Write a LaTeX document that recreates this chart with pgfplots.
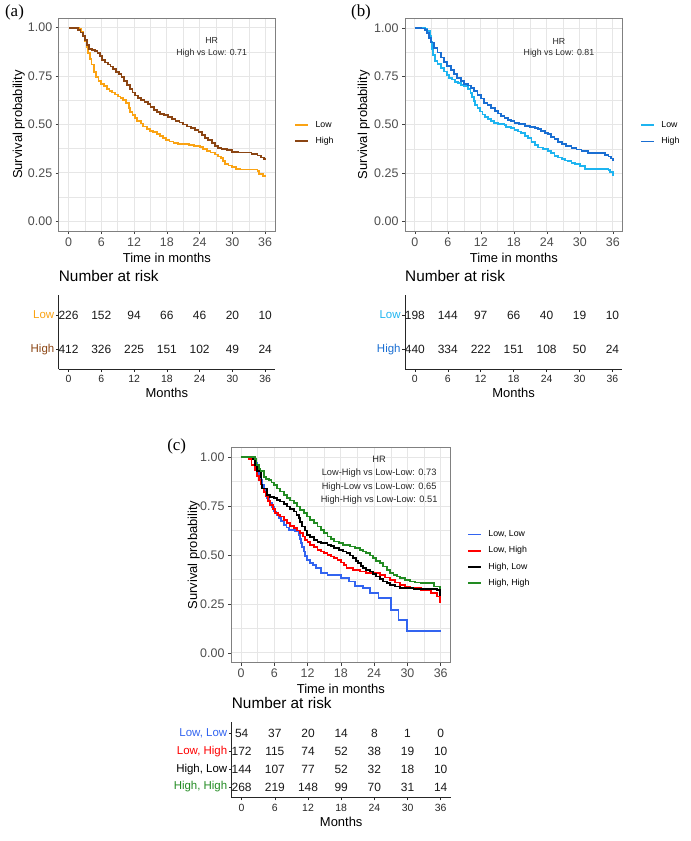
\documentclass[border=0pt]{standalone}
\usepackage{pgfplots}
\pgfplotsset{compat=1.18}
\usepackage{fontspec}
\setmainfont{Liberation Sans}
\newfontfamily\timesfont{Liberation Serif}

\definecolor{lowA}{RGB}{250,163,20}
\definecolor{highA}{RGB}{139,69,19}
\definecolor{lowB}{RGB}{30,180,240}
\definecolor{highB}{RGB}{25,110,210}
\definecolor{cLL}{RGB}{50,100,240}
\definecolor{cLH}{RGB}{255,0,0}
\definecolor{cHL}{RGB}{0,0,0}
\definecolor{cHH}{RGB}{34,139,34}
\definecolor{gridc}{RGB}{230,230,230}
\definecolor{tickc}{RGB}{77,77,77}

\pgfplotsset{
  km/.style={
    scale only axis, anchor=north west,
    xmin=-1.8, xmax=37.8, ymin=-0.05, ymax=1.05,
    xtick={0,6,...,36}, minor xtick={3,9,...,33},
    ytick={0,0.25,0.5,0.75,1}, yticklabels={0.00,0.25,0.50,0.75,1.00},
    minor ytick={0.125,0.375,0.625,0.875},
    xmajorgrids, ymajorgrids, xminorgrids, yminorgrids,
    major grid style={gridc, line width=0.9bp},
    minor grid style={gridc, line width=0.45bp},
    axis line style={black!50, line width=0.8bp},
    tick align=outside, major tick length=3bp, minor tick length=0bp,
    major tick style={black!75, line width=0.6bp},
    tick pos=left,
    tick label style={font=\fontsize{12.5}{15}\selectfont, text=tickc},
    /pgf/number format/assume math mode=true,
    xlabel={Time in months}, ylabel={Survival probability},
    label style={font=\fontsize{13}{15}\selectfont, inner sep=0pt},
    legend style={draw=none, fill=none, inner sep=0pt, anchor=west,
      font=\fontsize{8.8}{10}\selectfont,
      nodes={inner sep=0pt, text height=6.5bp, text depth=2bp},
      row sep=7.8bp, column sep=6.5bp},
    legend cell align=left,
    legend image code/.code={\draw[##1, line width=1.8bp] (0bp,0bp) -- (13bp,0bp);},
  },
  rt/.style={
    scale only axis, anchor=north west,
    xmin=-1.8, xmax=37.8,
    axis x line*=bottom, axis y line*=left,
    axis line style={-, black!85, line width=0.9bp},
    xtick={0,6,...,36}, tick align=outside, major tick length=2.75bp,
    major tick style={black!85, line width=0.6bp},
    x tick label style={font=\fontsize{10.5}{12}\selectfont, text=black!85},
    y tick label style={font=\fontsize{11.5}{13}\selectfont, inner sep=1.5bp},
    /pgf/number format/assume math mode=true,
    xlabel={Months},
    xlabel style={font=\fontsize{13}{15}\selectfont, at={([yshift=-19bp]rel axis cs:0.5,0)}, anchor=north, inner sep=0pt},
    title={Number at risk},
    title style={font=\fontsize{15.4}{17}\selectfont, at={([yshift=7.5bp]rel axis cs:0,1)}, anchor=base west, inner sep=0pt},
  },
  nums/.style={only marks, mark=*, mark size=0pt, mark options={draw=none, fill=none},
    nodes near coords, point meta=explicit symbolic, nodes near coords align={center},
    nodes near coords style={font=\fontsize{12}{14}\selectfont, text=black!90, inner sep=0pt}},
  km line/.style={const plot, line width=1.8bp, line join=miter},
}

\begin{document}
\begin{tikzpicture}
\useasboundingbox (0bp,0bp) rectangle (691bp,-841bp);

% ---------------- Panel (a) ----------------
\node[font=\timesfont\fontsize{17}{20}\selectfont, inner sep=0pt] at (14.5bp,-12.5bp) {(a)};
\begin{axis}[km, at={(58.7bp,-18bp)}, width=216.3bp, height=213bp,
  xlabel style={at={([yshift=-22bp]rel axis cs:0.5,0)}, anchor=north},
  ylabel style={at={([xshift=-33.7bp]rel axis cs:0,0.5)}, anchor=south},
  legend style={at={(1.088,0.459)}}]
\addplot[km line, color=lowA] coordinates {
(0,1.0) (1.9,0.995) (2.3,0.98) (2.7,0.96) (3.0,0.93) (3.3,0.90) (3.6,0.87) (3.9,0.84)
(4.2,0.81) (4.6,0.77) (5.0,0.745) (5.5,0.725) (6.0,0.71) (6.5,0.70) (7.0,0.685) (7.5,0.675)
(8.0,0.665) (8.5,0.655) (9.0,0.645) (9.5,0.635) (10.0,0.625) (10.5,0.61) (11.0,0.585) (11.3,0.565)
(11.7,0.55) (12.1,0.535) (12.6,0.52) (13.2,0.505) (13.7,0.49) (14.3,0.478) (14.9,0.468) (15.5,0.46)
(16.2,0.45) (16.8,0.44) (17.3,0.43) (17.8,0.42) (18.5,0.412) (19.2,0.405) (20.0,0.40) (21.0,0.398)
(22.0,0.395) (23.0,0.39) (24.0,0.385) (24.6,0.375) (25.3,0.365) (26.0,0.355) (26.8,0.345) (27.4,0.335)
(27.9,0.325) (28.3,0.31) (28.6,0.295) (29.3,0.288) (30.0,0.28) (30.7,0.272) (31.5,0.268) (34.6,0.26)
(34.9,0.245) (35.6,0.235) (36.0,0.228)};
\addlegendentry{Low}
\addplot[km line, color=highA] coordinates {
(0,1.0) (1.8,0.99) (2.2,0.975) (2.6,0.955) (3.0,0.935) (3.4,0.91) (3.8,0.89) (4.3,0.885)
(4.8,0.878) (5.3,0.87) (5.7,0.855) (6.2,0.835) (6.7,0.82) (7.2,0.81) (7.7,0.80) (8.2,0.785)
(8.7,0.772) (9.2,0.76) (9.7,0.745) (10.2,0.725) (10.7,0.705) (11.2,0.685) (11.7,0.665) (12.2,0.65)
(12.7,0.635) (13.3,0.625) (13.9,0.615) (14.5,0.605) (15.0,0.59) (15.6,0.575) (16.2,0.565) (16.8,0.555)
(17.5,0.548) (18.2,0.54) (18.9,0.53) (19.6,0.52) (20.3,0.51) (21.0,0.50) (21.7,0.49) (22.4,0.48)
(23.1,0.47) (23.8,0.46) (24.4,0.445) (25.0,0.432) (25.6,0.42) (26.2,0.405) (26.8,0.39) (27.4,0.38)
(28.0,0.375) (29.0,0.37) (30.0,0.36) (31.0,0.355) (33.5,0.348) (34.6,0.34) (35.3,0.33) (35.8,0.32) (36.0,0.318)};
\addlegendentry{High}
\node[font=\fontsize{8.8}{12}\selectfont, align=center, text=black!85] at (axis cs:26.2,0.897) {HR\\High vs Low: 0.71};
\end{axis}

\begin{axis}[rt, at={(58.7bp,-295bp)}, width=216.3bp, height=74.3bp,
  ymin=0.42, ymax=2.58, ytick={1,2},
  yticklabels={\textcolor{highA}{High},\textcolor{lowA}{Low}}]
\addplot[nums] table[meta=n] {
x y n
0 2 226
6 2 152
12 2 94
18 2 66
24 2 46
30 2 20
36 2 10
0 1 412
6 1 326
12 1 225
18 1 151
24 1 102
30 1 49
36 1 24
};
\end{axis}

% ---------------- Panel (b) ----------------
\node[font=\timesfont\fontsize{17}{20}\selectfont, inner sep=0pt] at (361bp,-12.5bp) {(b)};
\begin{axis}[km, at={(405bp,-18.3bp)}, width=217.7bp, height=212.7bp,
  xlabel style={at={([yshift=-22bp]rel axis cs:0.5,0)}, anchor=north},
  ylabel style={at={([xshift=-35bp]rel axis cs:0,0.5)}, anchor=south},
  legend style={at={(1.079,0.459)}}]
\addplot[km line, color=lowB] coordinates {
(0,1.0) (1.8,0.997) (2.3,0.985) (2.7,0.96) (3.0,0.93) (3.1,0.89) (3.3,0.86) (3.6,0.83)
(4.1,0.815) (4.7,0.795) (5.3,0.775) (5.8,0.755) (6.2,0.743) (6.8,0.733) (7.3,0.722) (7.8,0.715)
(8.4,0.707) (9.0,0.698) (9.6,0.685) (10.1,0.665) (10.4,0.645) (10.7,0.622) (11.0,0.600) (11.4,0.585)
(11.8,0.568) (12.3,0.553) (12.8,0.540) (13.3,0.528) (13.8,0.518) (14.4,0.510) (15.1,0.505) (16.3,0.500)
(16.6,0.488) (17.5,0.482) (18.1,0.472) (18.7,0.465) (19.3,0.455) (20.0,0.443) (20.6,0.43) (21.2,0.41)
(21.8,0.395) (22.4,0.382) (23.3,0.375) (24.2,0.365) (24.8,0.352) (25.4,0.338) (26.1,0.33) (26.7,0.322)
(27.3,0.315) (27.9,0.31) (28.5,0.30) (29.1,0.295) (30.0,0.287) (30.9,0.27) (35.2,0.265) (35.5,0.255) (36.0,0.237)};
\addlegendentry{Low}
\addplot[km line, color=highB] coordinates {
(0,1.0) (1.2,0.997) (1.8,0.99) (2.2,0.975) (2.6,0.95) (3.0,0.925) (3.5,0.898) (4.1,0.873)
(4.7,0.847) (5.3,0.825) (5.9,0.803) (6.5,0.782) (7.1,0.76) (7.7,0.742) (8.4,0.726) (9.0,0.712)
(9.6,0.702) (10.2,0.69) (10.8,0.672) (11.4,0.655) (12.0,0.635) (12.6,0.614) (13.2,0.60) (13.8,0.585)
(14.5,0.571) (15.1,0.558) (15.7,0.546) (16.3,0.536) (17.0,0.525) (17.5,0.518) (18.1,0.51) (19.0,0.502)
(20.0,0.493) (21.0,0.487) (21.8,0.484) (22.4,0.476) (23.0,0.467) (23.6,0.458) (24.2,0.45) (24.8,0.437)
(25.4,0.424) (26.0,0.41) (26.7,0.398) (27.5,0.39) (28.5,0.381) (29.4,0.372) (30.3,0.364) (31.5,0.355)
(33.4,0.352) (34.6,0.345) (35.2,0.335) (35.6,0.325) (36.0,0.312)};
\addlegendentry{High}
\node[font=\fontsize{8.8}{12}\selectfont, align=center, text=black!85] at (axis cs:26.2,0.897) {HR\\High vs Low: 0.81};
\end{axis}

\begin{axis}[rt, at={(405bp,-295bp)}, width=217.3bp, height=74.3bp,
  ymin=0.42, ymax=2.58, ytick={1,2},
  yticklabels={\textcolor{highB}{High},\textcolor{lowB}{Low}}]
\addplot[nums] table[meta=n] {
x y n
0 2 198
6 2 144
12 2 97
18 2 66
24 2 40
30 2 19
36 2 10
0 1 440
6 1 334
12 1 222
18 1 151
24 1 108
30 1 50
36 1 24
};
\end{axis}

% ---------------- Panel (c) ----------------
\node[font=\timesfont\fontsize{17}{20}\selectfont, inner sep=0pt] at (176.7bp,-446.7bp) {(c)};
\begin{axis}[km, at={(231bp,-447.3bp)}, width=219.7bp, height=215.4bp,
  xlabel style={at={([yshift=-21.7bp]rel axis cs:0.5,0)}, anchor=north},
  ylabel style={at={([xshift=-31bp]rel axis cs:0,0.5)}, anchor=south},
  legend style={at={(1.074,0.482)}}]
\addplot[km line, color=cLL] coordinates {
(0,1.0) (2.0,0.99) (2.5,0.97) (2.9,0.94) (3.2,0.91) (3.5,0.884) (3.8,0.86) (4.1,0.833)
(4.4,0.81) (4.7,0.79) (5.0,0.775) (5.3,0.765) (5.6,0.745) (5.9,0.722) (6.4,0.705) (6.8,0.688)
(7.2,0.672) (7.7,0.654) (8.2,0.64) (8.6,0.629) (9.8,0.62) (10.4,0.603) (10.6,0.58) (10.8,0.56)
(11.0,0.54) (11.3,0.518) (11.6,0.495) (11.9,0.475) (12.5,0.458) (13.0,0.448) (13.5,0.433) (14.4,0.407)
(15.6,0.399) (18.0,0.382) (19.5,0.365) (20.5,0.34) (22.0,0.33) (23.3,0.305) (24.8,0.28) (27.0,0.22)
(28.4,0.17) (29.9,0.11) (36.0,0.11)};
\addlegendentry{Low, Low}
\addplot[km line, color=cLH] coordinates {
(0,1.0) (1.5,0.99) (1.9,0.96) (2.5,0.935) (2.9,0.905) (3.2,0.884) (3.5,0.86) (3.8,0.84)
(4.1,0.82) (4.4,0.80) (4.9,0.775) (5.3,0.755) (5.8,0.735) (6.2,0.714) (6.6,0.705) (7.1,0.697)
(7.7,0.68) (8.3,0.663) (8.9,0.65) (9.5,0.637) (10.1,0.625) (10.7,0.612) (11.2,0.595) (11.6,0.578)
(12.0,0.565) (12.5,0.552) (13.1,0.54) (13.8,0.526) (14.4,0.518) (15.0,0.51) (15.6,0.50) (16.2,0.492)
(16.8,0.483) (17.4,0.475) (18.0,0.462) (18.5,0.45) (19.0,0.433) (20.2,0.424) (21.4,0.416) (22.6,0.41)
(23.8,0.407) (25.0,0.399) (26.0,0.385) (26.9,0.373) (27.8,0.36) (28.7,0.348) (29.6,0.338) (30.5,0.33)
(32.4,0.322) (34.2,0.305) (35.4,0.288) (35.9,0.262) (36.0,0.262)};
\addlegendentry{Low, High}
\addplot[km line, color=cHL] coordinates {
(0,1.0) (2.2,0.99) (2.5,0.96) (2.9,0.93) (3.6,0.90) (3.7,0.86) (3.8,0.84) (4.7,0.807)
(5.3,0.797) (5.9,0.79) (6.5,0.782) (7.1,0.773) (7.7,0.76) (8.3,0.748) (8.9,0.735) (9.5,0.722)
(10.0,0.705) (10.4,0.688) (10.7,0.667) (11.0,0.646) (11.5,0.625) (11.9,0.603) (12.5,0.59) (13.2,0.578)
(13.8,0.568) (14.4,0.56) (15.6,0.552) (16.2,0.544) (16.8,0.535) (17.6,0.526) (18.4,0.518) (19.0,0.51)
(19.6,0.497) (20.2,0.484) (20.7,0.47) (21.1,0.458) (21.6,0.445) (22.0,0.433) (22.6,0.425) (23.2,0.416)
(23.8,0.403) (24.4,0.39) (25.0,0.377) (25.6,0.365) (26.3,0.356) (26.9,0.348) (27.8,0.339) (28.7,0.33)
(31.1,0.325) (35.4,0.32) (35.9,0.296) (36.0,0.296)};
\addlegendentry{High, Low}
\addplot[km line, color=cHH] coordinates {
(0,1.0) (2.5,0.99) (2.8,0.96) (3.2,0.94) (3.5,0.927) (4.1,0.90) (4.5,0.89) (5.0,0.884)
(5.5,0.87) (5.9,0.858) (6.5,0.84) (7.1,0.824) (7.7,0.806) (8.3,0.79) (8.9,0.778) (9.5,0.765)
(10.1,0.748) (10.7,0.731) (11.3,0.714) (11.9,0.697) (12.5,0.68) (13.2,0.663) (13.8,0.646) (14.4,0.629)
(15.0,0.612) (15.6,0.595) (16.2,0.582) (16.8,0.569) (17.6,0.56) (18.4,0.552) (19.6,0.543) (20.5,0.535)
(21.4,0.526) (22.0,0.518) (22.6,0.51) (23.2,0.497) (23.8,0.484) (24.4,0.471) (25.0,0.458) (25.6,0.441)
(26.3,0.424) (26.9,0.41) (27.5,0.399) (28.1,0.39) (28.7,0.382) (29.6,0.373) (30.5,0.365) (31.4,0.36)
(32.4,0.356) (34.2,0.356) (34.8,0.339) (35.9,0.33) (36.0,0.33)};
\addlegendentry{High, High}
\node[font=\fontsize{9.3}{13.5}\selectfont, align=center, text=black!85] at (axis cs:24.9,0.881)
  {HR\\Low-High vs Low-Low: 0.73\\High-Low vs Low-Low: 0.65\\High-High vs Low-Low: 0.51};
\end{axis}

\begin{axis}[rt, at={(231.7bp,-721.7bp)}, width=219bp, height=76bp,
  ymin=0.4, ymax=4.67, ytick={1,2,3,4},
  yticklabels={\textcolor{cHH}{High, High},\textcolor{cHL}{High, Low},\textcolor{cLH}{Low, High},\textcolor{cLL}{Low, Low}}]
\addplot[nums] table[meta=n] {
x y n
0 4 54
6 4 37
12 4 20
18 4 14
24 4 8
30 4 1
36 4 0
0 3 172
6 3 115
12 3 74
18 3 52
24 3 38
30 3 19
36 3 10
0 2 144
6 2 107
12 2 77
18 2 52
24 2 32
30 2 18
36 2 10
0 1 268
6 1 219
12 1 148
18 1 99
24 1 70
30 1 31
36 1 14
};
\end{axis}
\end{tikzpicture}
\end{document}
